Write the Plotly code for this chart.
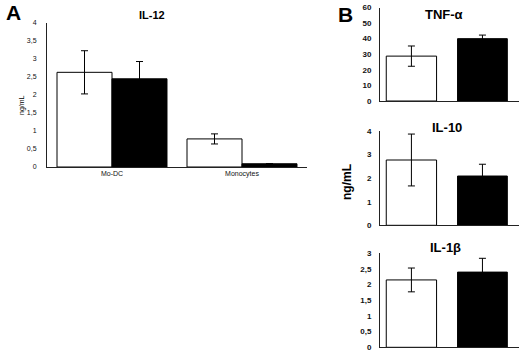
import plotly.graph_objects as go

W, H = 520, 353

# ---------------- data ----------------
il12_categories = ["Mo-DC", "Monocytes"]
il12_white = [2.63, 0.78]
il12_white_err = [0.60, 0.14]
il12_black = [2.45, 0.09]
il12_black_err = [0.48, 0.0]

tnf_values = [28.8, 40.0]
tnf_err = [6.5, 2.3]
il10_values = [2.77, 2.09]
il10_err = [1.10, 0.50]
il1b_values = [2.15, 2.40]
il1b_err = [0.38, 0.44]

def px_x(a, b):
    return [a / W, b / W]

def px_y(top, bottom):
    return [(H - bottom) / H, (H - top) / H]

fig = go.Figure()

bar_line = dict(color="black", width=1)
err_style = dict(type="data", color="black", thickness=1, width=3.5)

# Panel A
fig.add_trace(go.Bar(x=il12_categories, y=il12_white,
                     error_y=dict(array=il12_white_err, **err_style),
                     marker=dict(color="white", line=bar_line),
                     width=0.423, offset=-0.423, xaxis="x", yaxis="y", showlegend=False))
fig.add_trace(go.Bar(x=il12_categories, y=il12_black,
                     error_y=dict(array=il12_black_err, **err_style),
                     marker=dict(color="black", line=bar_line),
                     width=0.423, offset=0.0, xaxis="x", yaxis="y", showlegend=False))

# Panel B
panels = [(tnf_values, tnf_err, "2"), (il10_values, il10_err, "3"), (il1b_values, il1b_err, "4")]
for vals, errs, ax in panels:
    fig.add_trace(go.Bar(x=[0], y=[vals[0]], error_y=dict(array=[errs[0]], **err_style),
                         marker=dict(color="white", line=bar_line),
                         width=0.362, offset=-0.455, xaxis="x" + ax, yaxis="y" + ax, showlegend=False))
    fig.add_trace(go.Bar(x=[0], y=[vals[1]], error_y=dict(array=[errs[1]], **err_style),
                         marker=dict(color="black", line=bar_line),
                         width=0.358, offset=0.058, xaxis="x" + ax, yaxis="y" + ax, showlegend=False))

axis_line = dict(showline=True, linecolor="#222", linewidth=1, showgrid=False, zeroline=False,
                 automargin=False)
tickfontA = dict(family="Liberation Sans, Arial", size=7, color="#111")
tickfontB = dict(family="Liberation Sans, Arial", size=8, color="#111", weight="bold")

layout = dict(
    width=W, height=H, margin=dict(l=0, r=0, t=0, b=0, autoexpand=False),
    paper_bgcolor="white", plot_bgcolor="white",
    separators=", ", barmode="overlay", hovermode=False,
    font=dict(family="Liberation Sans, Arial", color="black"),
)

layout["xaxis"] = dict(domain=px_x(47, 307), range=[-0.5, 1.5], anchor="y",
                       ticks="", tickfont=tickfontA, **axis_line)
layout["yaxis"] = dict(domain=px_y(23, 167), range=[0, 4], dtick=0.5, anchor="x",
                       ticks="", tickfont=tickfontA, ticklabelstandoff=8, **axis_line)

b_y = {"2": (7.5, 101, 60, 10), "3": (131, 225.3, 4, 1), "4": (253.3, 347.3, 3, 0.5)}
for ax, (top, bottom, ymax, dt) in b_y.items():
    layout["xaxis" + ax] = dict(domain=px_x(380, 519), range=[-0.5, 0.5], anchor="y" + ax,
                                showticklabels=False, ticks="", **axis_line)
    layout["yaxis" + ax] = dict(domain=px_y(top, bottom), range=[0, ymax], dtick=dt, anchor="x" + ax,
                                ticks="", tickfont=tickfontB, ticklabelstandoff=6, **axis_line)

fig.update_layout(**layout)

ann = [
    dict(text="<b>A</b>", x=13, y=12, size=21),
    dict(text="<b>B</b>", x=345, y=14, size=21),
    dict(text="<b>IL-12</b>", x=152, y=15, size=11),
    dict(text="<b>TNF-α</b>", x=444, y=14, size=13),
    dict(text="<b>IL-10</b>", x=447, y=127, size=13),
    dict(text="<b>IL-1β</b>", x=445, y=247, size=13),
]
for a in ann:
    fig.add_annotation(text=a["text"], x=a["x"] / W, y=(H - a["y"]) / H, xref="paper", yref="paper",
                       showarrow=False, xanchor="center", yanchor="middle",
                       font=dict(size=a["size"], color="black", family="Liberation Sans, Arial"))

fig.add_annotation(text="ng/mL", x=16 / W, y=(H - 93) / H, xref="paper", yref="paper",
                   showarrow=False, textangle=-90, font=dict(size=7, color="black"))
fig.add_annotation(text="<b>ng/mL</b>", x=356 / W, y=(H - 182) / H, xref="paper", yref="paper",
                   showarrow=False, textangle=-90, font=dict(size=12, color="black"))

fig.write_html("out.html", config={"displayModeBar": False, "staticPlot": True},
               post_script="document.body.style.margin='0';document.body.style.overflow='hidden';")
